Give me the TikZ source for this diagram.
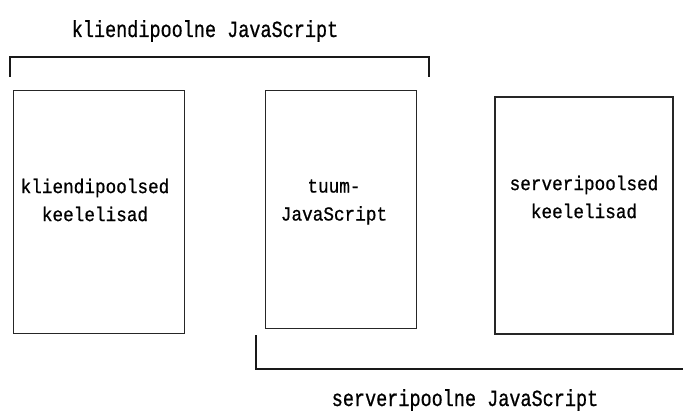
\documentclass[tikz,border=0pt]{standalone}
\usepackage{fontspec}
\newfontfamily\slabfont[FakeBold=0.8]{Liberation Mono}
% narrow slab lettering: stretch each line upward
\newcommand\tallline[2]{\scalebox{1}[#1]{#2}}
\begin{document}
\begin{tikzpicture}[x=1pt,y=-1pt,
  panel/.style={draw=black!85, line width=1pt, inner sep=0pt},
  bracketline/.style={draw=black!90, line width=2pt},
  boxtext/.style={font=\slabfont\fontsize{17.7}{28}\selectfont, align=center, inner sep=0pt},
  headtext/.style={font=\slabfont\fontsize{18.5}{22}\selectfont, inner sep=0pt, anchor=base}]
\useasboundingbox (0,0) rectangle (683,412);
% three panels
\node[panel, minimum width=171pt, minimum height=242pt] (klient) at (98.5,212) {};
\node[panel, minimum width=151pt, minimum height=237pt] (tuum) at (340.5,209.5) {};
\node[panel, minimum width=178pt, minimum height=237pt, line width=1.3pt] (server) at (584,215.5) {};
% panel captions
\node[boxtext] (klienttxt) at (95,200) {\tallline{1.12}{kliendipoolsed}\\\tallline{1.12}{keelelisad}};
\node[boxtext] (tuumtxt) at (334,202) {\tallline{1.12}{tuum-}\\\tallline{1.12}{JavaScript}};
\node[boxtext] (servertxt) at (584,197) {\tallline{1.12}{serveripoolsed}\\\tallline{1.12}{keelelisad}};
% client-side bracket
\coordinate (kl-a) at (10,77);
\coordinate (kl-b) at (10,57);
\coordinate (kl-c) at (429,57);
\coordinate (kl-d) at (429,77);
\draw[bracketline] (kl-a) -- (kl-b) -- (kl-c) -- (kl-d);
\node[headtext] (kltitle) at (205,37) {\tallline{1.25}{kliendipoolne JavaScript}};
% server-side bracket
\coordinate (sv-a) at (256,335);
\coordinate (sv-b) at (256,369);
\coordinate (sv-c) at (684,369);
\draw[bracketline] (sv-a) -- (sv-b) -- (sv-c);
\node[headtext] (svtitle) at (465,406) {\tallline{1.25}{serveripoolne JavaScript}};
\end{tikzpicture}
\end{document}
